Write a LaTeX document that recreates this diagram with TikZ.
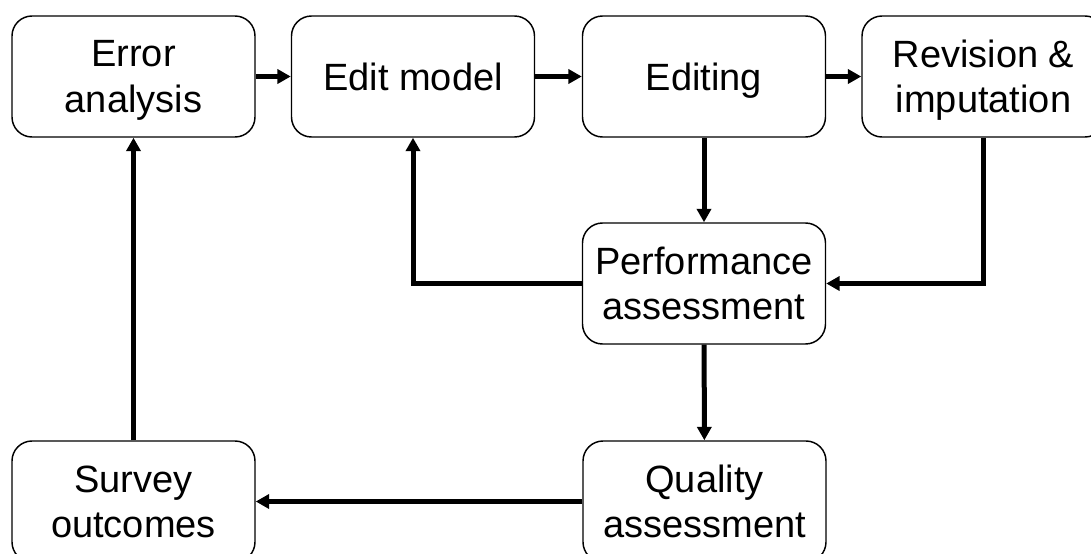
\documentclass[tikz,border=0pt]{standalone}
\usepackage{fontspec}
\setmainfont{Liberation Sans}
\usetikzlibrary{arrows.meta}
\begin{document}
\begin{tikzpicture}[x=0.75pt,y=-0.75pt,
  box/.style={draw=black,line width=1.1pt,rounded corners=15pt,fill=white,
    minimum width=182.25pt,minimum height=90.75pt,inner sep=0pt,align=center,
    font=\fontsize{28.5}{34}\selectfont,text depth=0pt},
  oneline/.style={text height=20.4pt},
  conn/.style={line width=3.75pt,-{Triangle[length=10pt,width=10.5pt]}}]
\useasboundingbox (0,0) rectangle (1091,553);
\node[box] (error) at (133.5,76.5) {Error\\analysis};
\node[box,oneline] (edit) at (413,76.5) {Edit model};
\node[box,oneline] (editing) at (704,76.5) {Editing};
\node[box] (rev) at (983.5,76.5) {Revision \&\\imputation};
\node[box] (perf) at (704,283.5) {Performance\\assessment};
\node[box] (survey) at (133.5,501.5) {Survey\\outcomes};
\node[box] (quality) at (704.5,501.5) {Quality\\assessment};
\draw[conn] (error) -- (edit);
\draw[conn] (edit) -- (editing);
\draw[conn] (editing) -- (rev);
\draw[conn] (editing) -- (perf);
\draw[conn] (perf) -| (edit);
\draw[conn] (rev) |- (perf);
\draw[conn] (perf) -- (quality);
\draw[conn] (quality) -- (survey);
\draw[conn] (survey) -- (error);
\end{tikzpicture}
\end{document}
